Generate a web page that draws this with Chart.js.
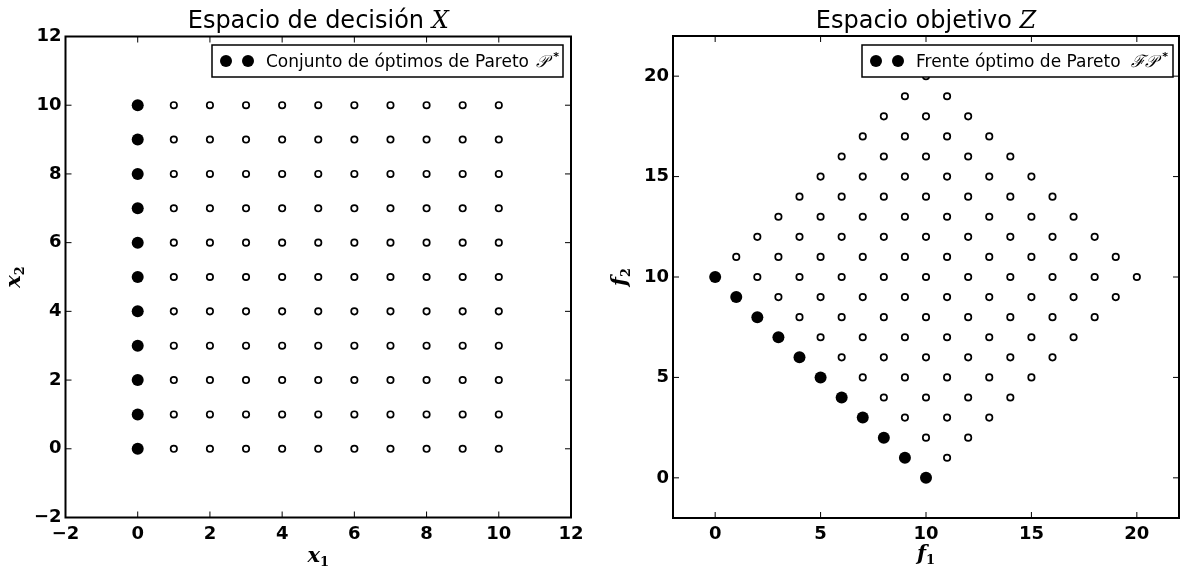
<!DOCTYPE html>
<html><head><meta charset="utf-8">
<script src="https://cdn.jsdelivr.net/npm/chart.js@4/dist/chart.umd.min.js"></script>
<style>
html,body{margin:0;padding:0;background:#fff;width:1185px;height:576px;overflow:hidden}
#w1{position:absolute;left:0;top:0;width:600px;height:576px}
#w2{position:absolute;left:600px;top:0;width:585px;height:576px}
</style></head><body>
<div id="w1"><canvas id="c1"></canvas></div>
<div id="w2"><canvas id="c2"></canvas></div>
<script>
// ---------- Decision space X ----------
const decisionX1Columns = [1, 2, 3, 4, 5, 6, 7, 8, 9, 10];
const decisionX2Rows = [0, 1, 2, 3, 4, 5, 6, 7, 8, 9, 10];
const paretoSetX1 = [0, 0, 0, 0, 0, 0, 0, 0, 0, 0, 0];
const paretoSetX2 = [0, 1, 2, 3, 4, 5, 6, 7, 8, 9, 10];
const decisionTicks = [-2, 0, 2, 4, 6, 8, 10, 12];

// ---------- Objective space Z ----------
const objectiveF2Rows = [1, 2, 3, 4, 5, 6, 7, 8, 9, 10, 11, 12, 13, 14, 15, 16, 17, 18, 19, 20];
const objectiveF1ByRow = [
  [11],
  [10, 12],
  [9, 11, 13],
  [8, 10, 12, 14],
  [7, 9, 11, 13, 15],
  [6, 8, 10, 12, 14, 16],
  [5, 7, 9, 11, 13, 15, 17],
  [4, 6, 8, 10, 12, 14, 16, 18],
  [3, 5, 7, 9, 11, 13, 15, 17, 19],
  [2, 4, 6, 8, 10, 12, 14, 16, 18, 20],
  [1, 3, 5, 7, 9, 11, 13, 15, 17, 19],
  [2, 4, 6, 8, 10, 12, 14, 16, 18],
  [3, 5, 7, 9, 11, 13, 15, 17],
  [4, 6, 8, 10, 12, 14, 16],
  [5, 7, 9, 11, 13, 15],
  [6, 8, 10, 12, 14],
  [7, 9, 11, 13],
  [8, 10, 12],
  [9, 11],
  [10]
];
const paretoFrontF1 = [0, 1, 2, 3, 4, 5, 6, 7, 8, 9, 10];
const paretoFrontF2 = [10, 9, 8, 7, 6, 5, 4, 3, 2, 1, 0];
const objectiveTicks = [0, 5, 10, 15, 20];

// ---------- build point tables ----------
const decisionDominated = [];
decisionX1Columns.forEach(a => decisionX2Rows.forEach(b => decisionDominated.push({x: a, y: b})));
const decisionPareto = paretoSetX1.map((v, i) => ({x: v, y: paretoSetX2[i]}));
const objectiveDominated = [];
objectiveF2Rows.forEach((f2, i) => objectiveF1ByRow[i].forEach(f1 => objectiveDominated.push({x: f1, y: f2})));
const objectivePareto = paretoFrontF1.map((v, i) => ({x: v, y: paretoFrontF2[i]}));

const TICK_FONT = {family: 'DejaVu Sans', size: 18, weight: 'bold'};
const fmt = v => (v < 0 ? '\u2212' + Math.abs(v) : String(v));

function drawParts(ctx, parts, x, y, rot) {
  ctx.save();
  ctx.translate(x, y);
  if (rot) ctx.rotate(rot);
  let w = 0;
  parts.forEach(p => { ctx.font = p.f; w += ctx.measureText(p.t).width; });
  let cx = -w / 2;
  ctx.fillStyle = '#000';
  ctx.textBaseline = 'alphabetic';
  ctx.textAlign = 'left';
  parts.forEach(p => { ctx.font = p.f; ctx.fillText(p.t, cx, p.dy || 0); cx += ctx.measureText(p.t).width; });
  ctx.restore();
}

function framePlugin(o) {
  return {
    id: 'frame',
    afterDraw(chart) {
      const ctx = chart.ctx, a = chart.chartArea;
      const xs = chart.scales.x, ys = chart.scales.y;
      ctx.save();
      ctx.strokeStyle = '#000';
      ctx.lineWidth = 1;
      const L = 6;
      ctx.beginPath();
      o.xTicks.forEach(v => {
        const p = xs.getPixelForValue(v);
        ctx.moveTo(p, a.bottom); ctx.lineTo(p, a.bottom - L);
        ctx.moveTo(p, a.top); ctx.lineTo(p, a.top + L);
      });
      o.yTicks.forEach(v => {
        const p = ys.getPixelForValue(v);
        ctx.moveTo(a.left, p); ctx.lineTo(a.left + L, p);
        ctx.moveTo(a.right, p); ctx.lineTo(a.right - L, p);
      });
      ctx.stroke();
      ctx.lineWidth = 2;
      ctx.strokeRect(a.left, a.top, a.right - a.left, a.bottom - a.top);

      // legend
      const lg = o.legend;
      ctx.fillStyle = '#fff';
      ctx.fillRect(lg.x, lg.y, lg.w, lg.h);
      ctx.lineWidth = 1.5;
      ctx.strokeRect(lg.x, lg.y, lg.w, lg.h);
      const my = lg.y + lg.h / 2;
      ctx.fillStyle = '#000';
      [lg.x + 14, lg.x + 36].forEach(mx => { ctx.beginPath(); ctx.arc(mx, my, 6, 0, Math.PI * 2); ctx.fill(); });
      let tx = lg.x + 54;
      ctx.textBaseline = 'alphabetic';
      ctx.textAlign = 'left';
      lg.parts.forEach(p => { ctx.font = p.f; tx += (p.dx || 0); ctx.fillText(p.t, tx, my + 6 + (p.dy || 0)); tx += ctx.measureText(p.t).width; });
      ctx.restore();

      const cxm = (a.left + a.right) / 2, cym = (a.top + a.bottom) / 2;
      drawParts(ctx, o.title, cxm, 28);
      drawParts(ctx, o.xLabel, cxm, o.xLabelY);
      drawParts(ctx, o.yLabel, o.yLabelX, cym, -Math.PI / 2);
    }
  };
}

function makeChart(id, cfg) {
  const axis = (ticks, min, max) => ({
    type: 'linear', min: min, max: max,
    afterBuildTicks: s => { s.ticks = ticks.map(v => ({value: v})); },
    grid: {display: false, drawTicks: false},
    border: {display: false},
    ticks: {color: '#000', font: TICK_FONT, autoSkip: false, maxRotation: 0, callback: v => fmt(v)}
  });
  const xs = axis(cfg.xTicks, cfg.min, cfg.max);
  xs.ticks.padding = 6;
  xs.afterFit = s => { s.height = cfg.xAxisH; };
  const ys = axis(cfg.yTicks, cfg.min, cfg.max);
  ys.ticks.padding = 4;
  ys.afterFit = s => { s.width = cfg.yAxisW; };
  return new Chart(document.getElementById(id), {
    type: 'scatter',
    data: {datasets: [
      {label: 'pareto', data: cfg.pareto, pointRadius: 6, pointHoverRadius: 6, backgroundColor: '#000', borderColor: '#000', borderWidth: 0},
      {label: 'dominated', data: cfg.dominated, pointRadius: 3.2, pointHoverRadius: 3.2, backgroundColor: '#fff', borderColor: '#000', borderWidth: 1.7}
    ]},
    options: {
      responsive: true, maintainAspectRatio: false, animation: false,
      clip: false,
      layout: {padding: cfg.padding},
      scales: {x: xs, y: ys},
      plugins: {legend: {display: false}, tooltip: {enabled: false}, title: {display: false}}
    },
    plugins: [framePlugin(cfg)]
  });
}

const SANS = 'DejaVu Sans';
makeChart('c1', {
  xTicks: decisionTicks, yTicks: decisionTicks, min: -2, max: 12,
  dominated: decisionDominated, pareto: decisionPareto,
  padding: {left: 0, right: 29, top: 36.5, bottom: 0}, xAxisH: 58.5, yAxisW: 65.5,
  title: [{t: 'Espacio de decisión ', f: '24px ' + SANS}, {t: 'X', f: 'italic 24px "DejaVu Serif"'}],
  xLabel: [{t: 'x', f: 'italic bold 21px "DejaVu Serif"'}, {t: '1', f: 'bold 13px "DejaVu Serif"', dy: 4}], xLabelY: 562,
  yLabel: [{t: 'x', f: 'italic bold 21px "DejaVu Serif"'}, {t: '2', f: 'bold 13px "DejaVu Serif"', dy: 4}], yLabelX: 20,
  legend: {x: 212, y: 45, w: 351, h: 32, parts: [{t: 'Conjunto de óptimos de Pareto ', f: '17px ' + SANS}, {t: '\u{1D4AB}', f: 'italic 17px "DejaVu Serif"', dx: 2}, {t: '*', f: 'bold 11px ' + SANS, dy: -7, dx: 5}]}
});
makeChart('c2', {
  xTicks: objectiveTicks, yTicks: objectiveTicks, min: -2, max: 22,
  dominated: objectiveDominated, pareto: objectivePareto,
  padding: {left: 0, right: 4, top: 36, bottom: 0}, xAxisH: 58, yAxisW: 73,
  title: [{t: 'Espacio objetivo ', f: '24px ' + SANS}, {t: 'Z', f: 'italic 24px "DejaVu Serif"'}],
  xLabel: [{t: 'f', f: 'italic bold 21px "DejaVu Serif"'}, {t: '1', f: 'bold 13px "DejaVu Serif"', dy: 4}], xLabelY: 560,
  yLabel: [{t: 'f', f: 'italic bold 21px "DejaVu Serif"'}, {t: '2', f: 'bold 13px "DejaVu Serif"', dy: 4}], yLabelX: 26,
  legend: {x: 262, y: 45, w: 311, h: 32, parts: [{t: 'Frente óptimo de Pareto  ', f: '17px ' + SANS}, {t: '\u2131\u{1D4AB}', f: 'italic 17px "DejaVu Serif"'}, {t: '*', f: 'bold 11px ' + SANS, dy: -7, dx: 5}]}
});
</script>
</body></html>
